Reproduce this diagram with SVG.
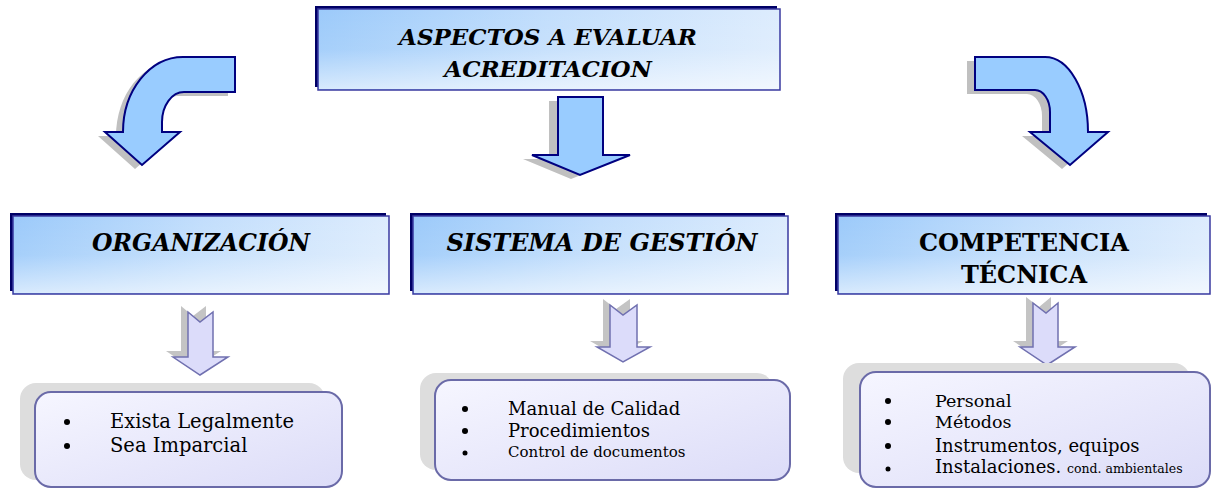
<svg xmlns="http://www.w3.org/2000/svg" width="1212" height="489" viewBox="0 0 1212 489">
<defs>
<linearGradient id="gBlue" x1="0" y1="0" x2="1" y2="0">
<stop offset="0" stop-color="#9ccafa"/>
<stop offset="0.5" stop-color="#c2defc"/>
<stop offset="1" stop-color="#ddecfd"/>
</linearGradient>
<linearGradient id="gWhite" x1="0" y1="0" x2="0" y2="1">
<stop offset="0" stop-color="#ffffff" stop-opacity="0"/>
<stop offset="0.5" stop-color="#ffffff" stop-opacity="0.1"/>
<stop offset="1" stop-color="#ffffff" stop-opacity="0.6"/>
</linearGradient>
<linearGradient id="gLav" x1="0" y1="0" x2="1" y2="1">
<stop offset="0" stop-color="#f6f6ff"/>
<stop offset="1" stop-color="#dcdcf8"/>
</linearGradient>
<style>
.back{fill:#000066}
.front{stroke:#3a3aa0;stroke-width:1.5;fill:url(#gBlue)}
.sheen{fill:url(#gWhite)}
.arrow{fill:#99ccff;stroke:#000080;stroke-width:2;stroke-linejoin:miter}
.shadow{fill:#c0c0c0}
.sarrow{fill:#dcdcfa;stroke:#7070b0;stroke-width:1.5}
.sshadow{fill:#c4c4c4}
.lbox{fill:url(#gLav);stroke:#6a6aa8;stroke-width:2}
.lshadow{fill:#dddddd}
.head{font-family:"DejaVu Serif","Liberation Serif",serif;font-weight:bold;font-style:italic;fill:#000;text-anchor:middle}
.headb{font-family:"DejaVu Serif","Liberation Serif",serif;font-weight:bold;fill:#000;text-anchor:middle}
.item{font-family:"DejaVu Serif","Liberation Serif",serif;fill:#000}
.dot{fill:#000}
</style>
</defs>

<g id="connectors">
<g id="arrow-left">
<path class="shadow" transform="translate(-7,4)" d="M235,57 L183,57 A60,75 0 0 0 123,132 L105,132 L142,165 L180,132 L162,132 L162,122 A22,30 0 0 1 184,92 L235,92 Z"/>
<path class="arrow" d="M235,57 L183,57 A60,75 0 0 0 123,132 L105,132 L142,165 L180,132 L162,132 L162,122 A22,30 0 0 1 184,92 L235,92 Z"/>
</g>
<g id="arrow-center">
<path class="shadow" transform="translate(-9,4)" d="M558,97 L603,97 L603,155 L630,155 L580,175 L532,155 L558,155 Z"/>
<path class="arrow" d="M558,97 L603,97 L603,155 L630,155 L580,175 L532,155 L558,155 Z"/>
</g>
<g id="arrow-right">
<path class="shadow" transform="translate(-8,4)" d="M975,57 L1045,57 A43,75 0 0 1 1088,132 L1108,132 L1070,165 L1030,132 L1050,132 L1050,112 A15,22 0 0 0 1035,90 L975,90 Z"/>
<path class="arrow" d="M975,57 L1045,57 A43,75 0 0 1 1088,132 L1108,132 L1070,165 L1030,132 L1050,132 L1050,112 A15,22 0 0 0 1035,90 L975,90 Z"/>
</g>
<g id="arrow-org">
<path class="sshadow" transform="translate(-7,-6)" d="M188,312 L200,322 L213,312 L213,357 L228,357 L200,375 L173,357 L188,357 Z"/>
<path class="sarrow" d="M188,312 L200,322 L213,312 L213,357 L228,357 L200,375 L173,357 L188,357 Z"/>
</g>
<g id="arrow-sis">
<path class="sshadow" transform="translate(-7,-6)" d="M610,305 L623,315 L637,305 L637,347 L650,347 L623,362 L597,347 L610,347 Z"/>
<path class="sarrow" d="M610,305 L623,315 L637,305 L637,347 L650,347 L623,362 L597,347 L610,347 Z"/>
</g>
<g id="arrow-comp">
<path class="sshadow" transform="translate(-7,-6)" d="M1033,303 L1046,313 L1058,303 L1058,347 L1075,347 L1047,365 L1020,347 L1033,347 Z"/>
<path class="sarrow" d="M1033,303 L1046,313 L1058,303 L1058,347 L1075,347 L1047,365 L1020,347 L1033,347 Z"/>
</g>
</g>

<g id="node-title">
<rect class="back" x="315" y="6" width="462" height="81"/>
<rect class="front" x="318" y="9" width="462" height="81"/>
<rect class="sheen" x="319" y="10" width="460" height="79"/>
<text class="head" x="548" y="45" font-size="23">ASPECTOS A EVALUAR</text>
<text class="head" x="548" y="77" font-size="23">ACREDITACION</text>
</g>

<g id="node-org">
<rect class="back" x="10" y="213" width="376" height="78"/>
<rect class="front" x="13" y="216" width="376" height="78"/>
<rect class="sheen" x="14" y="217" width="374" height="76"/>
<text class="head" x="201" y="251" font-size="23.5">ORGANIZACIÓN</text>
</g>

<g id="node-sis">
<rect class="back" x="410" y="213" width="375" height="78"/>
<rect class="front" x="413" y="216" width="375" height="78"/>
<rect class="sheen" x="414" y="217" width="373" height="76"/>
<text class="head" x="602" y="251" font-size="24">SISTEMA DE GESTIÓN</text>
</g>

<g id="node-comp">
<rect class="back" x="835" y="213" width="372" height="78"/>
<rect class="front" x="838" y="216" width="372" height="78"/>
<rect class="sheen" x="839" y="217" width="370" height="76"/>
<text class="headb" x="1024" y="251" font-size="24">COMPETENCIA</text>
<text class="headb" x="1024" y="283" font-size="24">TÉCNICA</text>
</g>

<g id="list-org">
<rect class="lshadow" x="20" y="383" width="305" height="97" rx="16"/>
<rect class="lbox" x="35" y="392" width="307" height="95" rx="16"/>
<circle class="dot" cx="67" cy="422" r="3"/>
<circle class="dot" cx="67" cy="446" r="3"/>
<text class="item" x="110" y="428" font-size="19.5">Exista Legalmente</text>
<text class="item" x="110" y="452" font-size="19.5">Sea Imparcial</text>
</g>

<g id="list-sis">
<rect class="lshadow" x="420" y="373" width="353" height="97" rx="16"/>
<rect class="lbox" x="435" y="380" width="355" height="100" rx="16"/>
<circle class="dot" cx="465" cy="409" r="3"/>
<circle class="dot" cx="465" cy="431" r="3"/>
<circle class="dot" cx="465" cy="453" r="2.5"/>
<text class="item" x="508" y="415" font-size="18">Manual de Calidad</text>
<text class="item" x="508" y="437" font-size="18">Procedimientos</text>
<text class="item" x="508" y="457" font-size="15">Control de documentos</text>
</g>

<g id="list-comp">
<rect class="lshadow" x="843" y="363" width="347" height="110" rx="16"/>
<rect class="lbox" x="860" y="372" width="350" height="115" rx="16"/>
<circle class="dot" cx="888" cy="401" r="3"/>
<circle class="dot" cx="888" cy="422" r="3"/>
<circle class="dot" cx="888" cy="446" r="3"/>
<circle class="dot" cx="888" cy="469" r="2.5"/>
<text class="item" x="935" y="407" font-size="17.5">Personal</text>
<text class="item" x="935" y="428" font-size="17.5">Métodos</text>
<text class="item" x="935" y="452" font-size="18">Instrumentos, equipos</text>
<text class="item" x="935" y="473" font-size="18">Instalaciones. <tspan font-size="12.5">cond. ambientales</tspan></text>
</g>
</svg>
